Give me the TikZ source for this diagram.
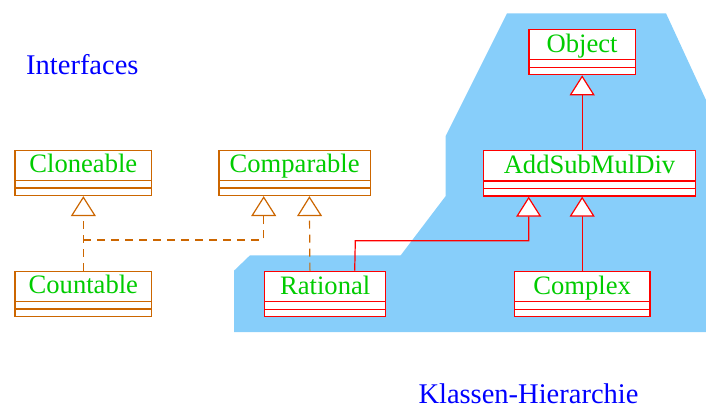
\documentclass[tikz,border=0pt]{standalone}
\usepackage{fontspec}
\setmainfont{Liberation Serif}
\usetikzlibrary{arrows.meta}
\definecolor{skyfill}{RGB}{135,206,250}
\definecolor{txtgreen}{RGB}{0,204,0}
\definecolor{ifacecol}{RGB}{204,102,0}
\definecolor{classcol}{RGB}{255,0,0}
\definecolor{labblue}{RGB}{0,0,255}
\tikzset{
  umlbox/.style={draw, fill=white, line width=1.2pt, inner sep=0pt,
    minimum height=45.4pt, text height=0pt, text depth=0pt,
    text=txtgreen, font=\fontsize{26.6}{28}\selectfont,
    path picture={
      \draw[line width=1.2pt] ([yshift=7.5pt]path picture bounding box.south west) -- ([yshift=7.5pt]path picture bounding box.south east);
      \draw[line width=1.2pt] ([yshift=15pt]path picture bounding box.south west) -- ([yshift=15pt]path picture bounding box.south east);
    }},
  iface/.style={umlbox, draw=ifacecol},
  klass/.style={umlbox, draw=classcol},
  realize/.style={draw=ifacecol, line width=1.2pt, dash pattern=on 8pt off 6pt,
    -{Triangle[open, fill=white, length=20pt, width=25pt]}},
  inherit/.style={draw=classcol, line width=1.2pt,
    -{Triangle[open, fill=white, length=20pt, width=25pt]}},
  heading/.style={text=labblue, font=\fontsize{28.5}{30}\selectfont, inner sep=0pt, anchor=base west}
}
\begin{document}
\begin{tikzpicture}[x=1pt,y=-1pt]
\useasboundingbox (0,0) rectangle (706,410);
% background region
\fill[skyfill] (507,13.3) -- (666,13.3) -- (706,100) -- (706,332) -- (234,332) -- (234,270.7)
  -- (250,255.3) -- (400.7,255.3) -- (445.7,196) -- (445.7,136) -- cycle;
% labels
\node[heading] (lint) at (26,74.3) {Interfaces};
\node[heading] (lkl) at (418.3,403.5) {Klassen-Hierarchie};
% interfaces
\node[iface, minimum width=136.7pt] (clone) at (83.35,172.85) {Cloneable};
\node[iface, minimum width=151.3pt] (comp) at (294.65,172.85) {Comparable};
\node[iface, minimum width=136.7pt] (count) at (83.35,293.85) {Countable};
% classes
\node[klass, minimum width=106.3pt] (obj) at (582.15,52) {Object};
\node[klass, minimum width=211.6pt] (asmd) at (589.5,173.35) {AddSubMulDiv};
\node[klass, minimum width=121pt] (rat) at (325.2,294) {Rational};
\node[klass, minimum width=135.7pt] (cplx) at (582.15,294) {Complex};
% realizations
\coordinate (cmpA) at ([xshift=45.3pt]comp.south west);
\coordinate (cmpB) at ([xshift=91pt]comp.south west);
\coordinate (ratR) at ([xshift=45.8pt]rat.north west);
\coordinate (jc) at (83.35,240);
\draw[realize] (count.north) -- (clone.south);
\draw[realize] (jc) -| (cmpA);
\draw[realize] (ratR) -- (cmpB);
% inheritance
\coordinate (asmdA) at ([xshift=45.6pt]asmd.south west);
\coordinate (ratI) at ([xshift=90.6pt]rat.north west);
\coordinate (jr) at (355.3,240.7);
\draw[inherit] (obj.south |- asmd.north) -- (obj.south);
\draw[inherit] (cplx.north) -- (cplx.north |- asmd.south);
\draw[inherit] (ratI) -- (jr) -| (asmdA);
\end{tikzpicture}
\end{document}
